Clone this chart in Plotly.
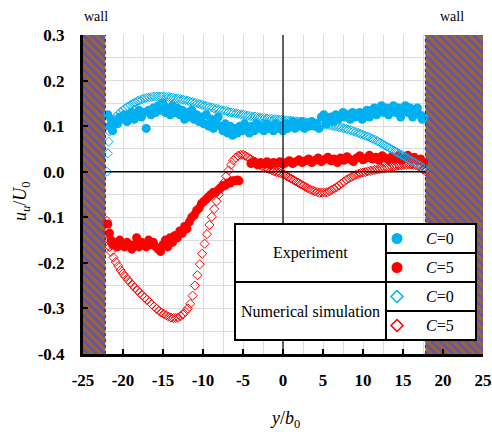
import plotly.graph_objects as go

# ---------------- data ----------------
exp_c0_x = [-21.9, -21.7, -21.5, -21.3, -21.0, -20.7, -20.4, -20.1, -19.8, -19.5, -19.2, -18.9, -18.6, -18.3,
            -18.0, -17.7, -17.4, -17.1, -16.8, -16.5, -16.2, -15.9, -15.6, -15.3, -15.0, -14.7, -14.4, -14.1,
            -13.8, -13.5, -13.2, -12.9, -12.6, -12.3, -12.0, -11.7, -11.4, -11.1, -10.8, -10.5, -10.2, -9.9,
            -9.6, -9.3, -9.0, -8.7, -8.4, -8.1, -7.8, -7.5, -7.2, -6.9, -6.6, -6.3, -6.0, -5.7, -5.4, -5.1,
            -4.8, -4.5, -4.2, -3.9, -3.6, -3.3, -3.0, -2.7, -2.4, -2.1, -1.8, -1.5, -1.2, -0.9, -0.6, -0.3,
            0.0, 0.3, 0.6, 0.9, 1.2, 1.5, 1.8, 2.1, 2.4, 2.7, 3.0, 3.3, 3.6, 3.9, 4.2, 4.5, 4.8, 5.1, 5.4,
            5.7, 6.0, 6.3, 6.6, 6.9, 7.2, 7.5, 7.8, 8.1, 8.4, 8.7, 9.0, 9.3, 9.6, 9.9, 10.2, 10.5, 10.8,
            11.1, 11.4, 11.7, 12.0, 12.3, 12.6, 12.9, 13.2, 13.5, 13.8, 14.1, 14.4, 14.7, 15.0, 15.3, 15.6,
            15.9, 16.2, 16.5, 16.8, 17.1, 17.4, 17.6]
exp_c0_u = [0.125, 0.100, 0.115, 0.090, 0.110, 0.105, 0.120, 0.115, 0.125, 0.110, 0.120, 0.130, 0.115, 0.125,
            0.135, 0.120, 0.130, 0.095, 0.135, 0.125, 0.140, 0.130, 0.145, 0.135, 0.150, 0.130, 0.140, 0.125,
            0.145, 0.130, 0.140, 0.125, 0.135, 0.115, 0.130, 0.120, 0.135, 0.115, 0.125, 0.110, 0.120, 0.105,
            0.125, 0.100, 0.115, 0.095, 0.110, 0.120, 0.100, 0.090, 0.105, 0.085, 0.100, 0.080, 0.095, 0.085,
            0.100, 0.090, 0.105, 0.095, 0.085, 0.100, 0.090, 0.105, 0.095, 0.100, 0.090, 0.105, 0.095, 0.100,
            0.090, 0.105, 0.095, 0.100, 0.090, 0.105, 0.095, 0.100, 0.110, 0.095, 0.105, 0.100, 0.110, 0.095,
            0.105, 0.100, 0.110, 0.100, 0.105, 0.095, 0.120, 0.125, 0.105, 0.115, 0.120, 0.110, 0.125, 0.115,
            0.120, 0.130, 0.120, 0.125, 0.115, 0.130, 0.120, 0.125, 0.130, 0.115, 0.125, 0.135, 0.120, 0.130,
            0.140, 0.125, 0.135, 0.145, 0.130, 0.140, 0.125, 0.135, 0.145, 0.130, 0.140, 0.120, 0.135, 0.145,
            0.130, 0.140, 0.120, 0.135, 0.140, 0.125, 0.115, 0.120]

exp_c5_x = [-21.9, -21.7, -21.5, -21.3, -21.0, -20.7, -20.4, -20.1, -19.8, -19.5, -19.2, -18.9, -18.6, -18.3,
            -18.0, -17.7, -17.4, -17.1, -16.8, -16.5, -16.2, -15.9, -15.6, -15.3, -15.0, -14.7, -14.4, -14.1,
            -13.8, -13.5, -13.2, -12.9, -12.6, -12.3, -12.0, -11.7, -11.4, -11.1, -10.8, -10.5, -10.2, -9.9,
            -9.6, -9.3, -9.0, -8.7, -8.4, -8.1, -7.8, -7.5, -7.2, -6.9, -6.6, -6.3, -6.0, -5.7, -5.5,
            -4.0, -3.6, -3.2, -2.8, -2.4, -2.0, -1.6, -1.2, -0.8, -0.4, 0.0, 0.4, 0.8, 1.2, 1.6, 2.0, 2.4,
            2.8, 3.2, 3.6, 4.0, 4.4, 4.8, 5.2, 5.6, 6.0, 6.4, 6.8, 7.2, 7.6, 8.0, 8.4, 8.8, 9.2, 9.6, 10.0,
            10.4, 10.8, 11.2, 11.6, 12.0, 12.4, 12.8, 13.2, 13.6, 14.0, 14.4, 14.8, 15.2, 15.6, 16.0, 16.4,
            16.8, 17.2, 17.6]
exp_c5_u = [-0.115, -0.135, -0.150, -0.160, -0.155, -0.165, -0.150, -0.160, -0.165, -0.155, -0.160, -0.170,
            -0.160, -0.145, -0.165, -0.155, -0.160, -0.165, -0.150, -0.160, -0.155, -0.165, -0.170, -0.175,
            -0.160, -0.150, -0.165, -0.145, -0.155, -0.140, -0.145, -0.130, -0.135, -0.120, -0.125, -0.110,
            -0.100, -0.095, -0.085, -0.080, -0.070, -0.065, -0.060, -0.055, -0.050, -0.045, -0.045, -0.040,
            -0.035, -0.030, -0.030, -0.025, -0.025, -0.020, -0.020, -0.018, -0.020,
            0.018, 0.022, 0.015, 0.020, 0.017, 0.022, 0.015, 0.020, 0.018, 0.022, 0.016, 0.020, 0.024, 0.018,
            0.022, 0.026, 0.020, 0.024, 0.028, 0.020, 0.025, 0.030, 0.022, 0.027, 0.032, 0.024, 0.028, 0.020,
            0.030, 0.025, 0.033, 0.027, 0.022, 0.030, 0.035, 0.026, 0.030, 0.036, 0.028, 0.032, 0.025, 0.035,
            0.030, 0.026, 0.033, 0.028, 0.035, 0.025, 0.030, 0.036, 0.027, 0.032, 0.024, 0.028, 0.020]

sim_c0_x = [-22.0, -21.9, -21.8, -21.7, -21.5, -21.2, -20.9, -20.6, -20.3, -20.0, -19.7, -19.4, -19.1, -18.8,
            -18.5, -18.2, -17.9, -17.6, -17.3, -17.0, -16.7, -16.4, -16.1, -15.8, -15.5, -15.2, -14.9, -14.6,
            -14.3, -14.0, -13.7, -13.4, -13.1, -12.8, -12.5, -12.2, -11.9, -11.6, -11.3, -11.0, -10.7, -10.4,
            -10.1, -9.8, -9.5, -9.2, -8.9, -8.6, -8.3, -8.0, -7.7, -7.4, -7.1, -6.8, -6.5, -6.2, -5.9, -5.6,
            -5.3, -5.0, -4.7, -4.4, -4.1, -3.8, -3.5, -3.2, -2.9, -2.6, -2.3, -2.0, -1.7, -1.4, -1.1, -0.8,
            -0.5, -0.2, 0.1, 0.4, 0.7, 1.0, 1.3, 1.6, 1.9, 2.2, 2.5, 2.8, 3.1, 3.4, 3.7, 4.0, 4.3, 4.6, 4.9,
            5.2, 5.5, 5.8, 6.1, 6.4, 6.7, 7.0, 7.3, 7.6, 7.9, 8.2, 8.5, 8.8, 9.1, 9.4, 9.7, 10.0, 10.3, 10.6,
            10.9, 11.2, 11.5, 11.8, 12.1, 12.4, 12.7, 13.0, 13.3, 13.6, 13.9, 14.2, 14.5, 14.8, 15.1, 15.4,
            15.7, 16.0, 16.3, 16.6, 16.9, 17.2, 17.5, 17.8]
sim_c0_u = [0.000, 0.040, 0.066, 0.088, 0.105, 0.113, 0.120, 0.126, 0.131, 0.135, 0.139, 0.143, 0.146, 0.149,
            0.152, 0.155, 0.157, 0.159, 0.161, 0.162, 0.163, 0.164, 0.165, 0.165, 0.165, 0.165, 0.165, 0.164,
            0.164, 0.163, 0.162, 0.161, 0.160, 0.159, 0.158, 0.157, 0.156, 0.154, 0.153, 0.151, 0.150, 0.148,
            0.147, 0.145, 0.144, 0.142, 0.141, 0.139, 0.138, 0.137, 0.135, 0.134, 0.133, 0.131, 0.130, 0.129,
            0.128, 0.127, 0.126, 0.125, 0.124, 0.123, 0.122, 0.121, 0.121, 0.120, 0.119, 0.118, 0.118, 0.117,
            0.116, 0.116, 0.115, 0.115, 0.114, 0.114, 0.113, 0.113, 0.112, 0.112, 0.111, 0.111, 0.110, 0.110,
            0.109, 0.109, 0.108, 0.108, 0.107, 0.107, 0.106, 0.106, 0.105, 0.104, 0.103, 0.102, 0.101, 0.100,
            0.099, 0.098, 0.097, 0.095, 0.094, 0.092, 0.091, 0.089, 0.087, 0.085, 0.083, 0.081, 0.079, 0.077,
            0.075, 0.072, 0.070, 0.067, 0.064, 0.061, 0.058, 0.055, 0.052, 0.049, 0.046, 0.043, 0.040, 0.037,
            0.034, 0.031, 0.028, 0.025, 0.022, 0.019, 0.016, 0.013, 0.009, 0.005, 0.002]

sim_c5_x = [-22.0, -21.9, -21.8, -21.7, -21.5, -21.2, -20.9, -20.6, -20.3, -20.0, -19.7, -19.4, -19.1, -18.8,
            -18.5, -18.2, -17.9, -17.6, -17.3, -17.0, -16.7, -16.4, -16.1, -15.8, -15.5, -15.2, -14.9, -14.6,
            -14.3, -14.0, -13.7, -13.4, -13.1, -12.8, -12.5, -12.2, -11.9, -11.6, -11.3, -11.0, -10.7, -10.4,
            -10.1, -9.8, -9.5, -9.2, -8.9, -8.6, -8.3, -8.0, -7.7, -7.4, -7.1, -6.8, -6.5, -6.2, -5.9, -5.6,
            -5.3, -5.0, -4.7, -4.4, -4.1, -3.8, -3.5, -3.2, -2.9, -2.6, -2.3, -2.0, -1.7, -1.4, -1.1, -0.8,
            -0.5, -0.2, 0.1, 0.4, 0.7, 1.0, 1.3, 1.6, 1.9, 2.2, 2.5, 2.8, 3.1, 3.4, 3.7, 4.0, 4.3, 4.6, 4.9,
            5.2, 5.5, 5.8, 6.1, 6.4, 6.7, 7.0, 7.3, 7.6, 7.9, 8.2, 8.5, 8.8, 9.1, 9.4, 9.7, 10.0, 10.3, 10.6,
            10.9, 11.2, 11.5, 11.8, 12.1, 12.4, 12.7, 13.0, 13.3, 13.6, 13.9, 14.2, 14.5, 14.8, 15.1, 15.4,
            15.7, 16.0, 16.3, 16.6, 16.9, 17.2, 17.5, 17.8]
sim_c5_u = [-0.108, -0.130, -0.150, -0.165, -0.176, -0.188, -0.198, -0.207, -0.216, -0.224, -0.230, -0.237,
            -0.243, -0.249, -0.255, -0.260, -0.266, -0.271, -0.276, -0.281, -0.286, -0.291, -0.296, -0.301,
            -0.305, -0.309, -0.312, -0.315, -0.318, -0.320, -0.321, -0.321, -0.320, -0.317, -0.313, -0.307,
            -0.300, -0.290, -0.272, -0.250, -0.227, -0.203, -0.180, -0.158, -0.137, -0.117, -0.099, -0.082,
            -0.065, -0.050, -0.037, -0.024, -0.010, 0.003, 0.015, 0.025, 0.031, 0.035, 0.037, 0.037, 0.035,
            0.032, 0.028, 0.025, 0.022, 0.018, 0.015, 0.012, 0.009, 0.007, 0.005, 0.003, 0.001, -0.001,
            -0.002, -0.004, -0.006, -0.009, -0.012, -0.015, -0.018, -0.021, -0.024, -0.027, -0.030, -0.033,
            -0.036, -0.039, -0.041, -0.043, -0.045, -0.046, -0.046, -0.046, -0.045, -0.043, -0.040, -0.037,
            -0.034, -0.030, -0.026, -0.022, -0.018, -0.015, -0.012, -0.009, -0.007, -0.005, -0.003, -0.002,
            -0.001, 0.001, 0.002, 0.003, 0.004, 0.005, 0.006, 0.007, 0.008, 0.009, 0.010, 0.011, 0.012,
            0.013, 0.014, 0.014, 0.015, 0.015, 0.016, 0.016, 0.015, 0.014, 0.012, 0.009, 0.005, 0.001]

# domain geometry
wall_left = -22.2
wall_right = 17.8
x_min, x_max = -25, 25
y_min, y_max = -0.4, 0.3

x_tickvals = [-25, -20, -15, -10, -5, 0, 5, 10, 15, 20, 25]
x_ticktext = ["-25", "-20", "-15", "-10", "-5", "0", "5", "10", "15", "20", "25"]
y_tickvals = [-0.4, -0.3, -0.2, -0.1, 0.0, 0.1, 0.2, 0.3]
y_ticktext = ["-0.4", "-0.3", "-0.2", "-0.1", "0.0", "0.1", "0.2", "0.3"]

CYAN = "#00B0F0"
RED = "#FF0000"
BROWN = "#9A6630"
HATCH = "#5A50C8"
FONT = "'Liberation Serif', 'Times New Roman', serif"

W, H = 492, 432
L, R, T, B = 83, 9, 35, 78
PW, PH = W - L - R, H - T - B


def px(x):
    return (x - L) / PW


def py(y):
    return (H - B - y) / PH


fig = go.Figure()

# walls (hatched)
wall_marker = dict(color=BROWN, line=dict(width=0),
                   pattern=dict(shape="\\", fgcolor=HATCH, bgcolor=BROWN, size=6, solidity=0.4,
                                fillmode="replace"))
fig.add_trace(go.Bar(x=[(x_min + wall_left) / 2], y=[y_max - y_min], base=[y_min],
                     width=[wall_left - x_min], hoverinfo="skip", showlegend=False, marker=wall_marker))
fig.add_trace(go.Bar(x=[(x_max + wall_right) / 2], y=[y_max - y_min], base=[y_min],
                     width=[x_max - wall_right], hoverinfo="skip", showlegend=False, marker=wall_marker))

fig.add_trace(go.Scatter(x=exp_c5_x, y=exp_c5_u, mode="markers", showlegend=False,
                         marker=dict(color=RED, size=9, line=dict(width=0))))
fig.add_trace(go.Scatter(x=exp_c0_x, y=exp_c0_u, mode="markers", showlegend=False,
                         marker=dict(color=CYAN, size=9, line=dict(width=0))))
fig.add_trace(go.Scatter(x=sim_c5_x, y=sim_c5_u, mode="markers", showlegend=False,
                         marker=dict(symbol="diamond-open", color=RED, size=7, line=dict(width=1, color=RED))))
fig.add_trace(go.Scatter(x=sim_c0_x, y=sim_c0_u, mode="markers", showlegend=False,
                         marker=dict(symbol="diamond-open", color=CYAN, size=7, line=dict(width=1, color=CYAN))))

shapes = []
# wall edges dashed
for xw in (wall_left, wall_right):
    shapes.append(dict(type="line", xref="x", yref="y", x0=xw, x1=xw, y0=y_min, y1=y_max,
                       line=dict(color="#333333", width=1, dash="dot"), layer="above"))
# zero lines
shapes.append(dict(type="line", xref="x", yref="y", x0=wall_left, x1=wall_right, y0=0, y1=0,
                   line=dict(color="black", width=1.6), layer="above"))
shapes.append(dict(type="line", xref="x", yref="y", x0=0, x1=0, y0=y_min, y1=y_max,
                   line=dict(color="black", width=1.2), layer="above"))

# legend table
bx0, bx1, by0, by1 = 235, 476, 224, 340
xdiv = 386
rows = [224, 253, 282, 311, 340]
shapes.append(dict(type="rect", xref="paper", yref="paper", x0=px(bx0), x1=px(bx1), y0=py(by1), y1=py(by0),
                   fillcolor="white", line=dict(color="black", width=2), layer="above"))
shapes.append(dict(type="line", xref="paper", yref="paper", x0=px(xdiv), x1=px(xdiv), y0=py(by1), y1=py(by0),
                   line=dict(color="black", width=2), layer="above"))
shapes.append(dict(type="line", xref="paper", yref="paper", x0=px(bx0), x1=px(bx1), y0=py(282), y1=py(282),
                   line=dict(color="black", width=2), layer="above"))
for ry in (253, 311):
    shapes.append(dict(type="line", xref="paper", yref="paper", x0=px(xdiv), x1=px(bx1), y0=py(ry), y1=py(ry),
                       line=dict(color="black", width=2), layer="above"))

mx = 397
centers = [(rows[i] + rows[i + 1]) / 2 for i in range(4)]
# filled circles
for cy, col in ((centers[0], CYAN), (centers[1], RED)):
    r = 5.5
    shapes.append(dict(type="circle", xref="paper", yref="paper", x0=px(mx - r), x1=px(mx + r),
                       y0=py(cy + r), y1=py(cy - r), fillcolor=col, line=dict(color=col, width=0), layer="above"))
# open diamonds
for cy, col in ((centers[2], CYAN), (centers[3], RED)):
    d = 6
    path = "M {} {} L {} {} L {} {} L {} {} Z".format(px(mx), py(cy - d), px(mx + d), py(cy),
                                                      px(mx), py(cy + d), px(mx - d), py(cy))
    shapes.append(dict(type="path", xref="paper", yref="paper", path=path,
                       line=dict(color=col, width=1.5), layer="above"))

ann = []
tf = dict(family=FONT, size=16, color="black")


def note(text, x, y, font, **kw):
    ann.append(dict(text=text, x=px(x), y=py(y), xref="paper", yref="paper", showarrow=False,
                    xanchor="center", yanchor="middle", font=font, **kw))


note("Experiment", (bx0 + xdiv) / 2, 253, tf)
note("Numerical simulation", (bx0 + xdiv) / 2, 311, tf)
labels = ["<i>C</i>=0", "<i>C</i>=5", "<i>C</i>=0", "<i>C</i>=5"]
for cy, lab in zip(centers, labels):
    note(lab, 440, cy, tf)

note("wall", 96, 17, dict(family=FONT, size=14, color="black"))
note("wall", 452, 16, dict(family=FONT, size=14, color="black"))
note("<i>y</i>/<i>b</i><sub>0</sub>", 285, 419, dict(family=FONT, size=18, color="black"))
note("<i>u</i><sub><i>u</i></sub>/<i>U</i><sub>0</sub>", 21, 201, dict(family=FONT, size=18, color="black"),
     textangle=-90)

GRID = "#DCDCDC"
axis_common = dict(showgrid=True, gridcolor=GRID, gridwidth=1, zeroline=False,
                   showline=True, linecolor="black", linewidth=3,
                   ticks="inside", ticklen=5, tickwidth=2, tickcolor="black",
                   automargin=False,
                   tickfont=dict(family=FONT, size=17, color="black", weight="bold"),
                   fixedrange=True)
fig.update_layout(
    width=W, height=H, margin=dict(l=L, r=R, t=T, b=B),
    paper_bgcolor="white", plot_bgcolor="white",
    font=dict(family=FONT, color="black"),
    showlegend=False, hovermode=False, barmode="overlay",
    shapes=shapes, annotations=ann,
    xaxis=dict(range=[x_min, x_max], tickmode="array", tickvals=x_tickvals, ticktext=x_ticktext,
               ticklabelstandoff=9,
               minor=dict(tickmode="linear", tick0=0, dtick=2.5, showgrid=True, gridcolor=GRID, ticks=""),
               **axis_common),
    yaxis=dict(range=[y_min, y_max], tickmode="array", tickvals=y_tickvals, ticktext=y_ticktext,
               ticklabelstandoff=12,
               minor=dict(tickmode="linear", tick0=0, dtick=0.05, showgrid=True, gridcolor=GRID, ticks=""),
               **axis_common),
)

fig.write_html("out.html", config={"displayModeBar": False, "staticPlot": True},
               post_script="document.body.style.margin='0px';document.body.style.padding='0px';")
